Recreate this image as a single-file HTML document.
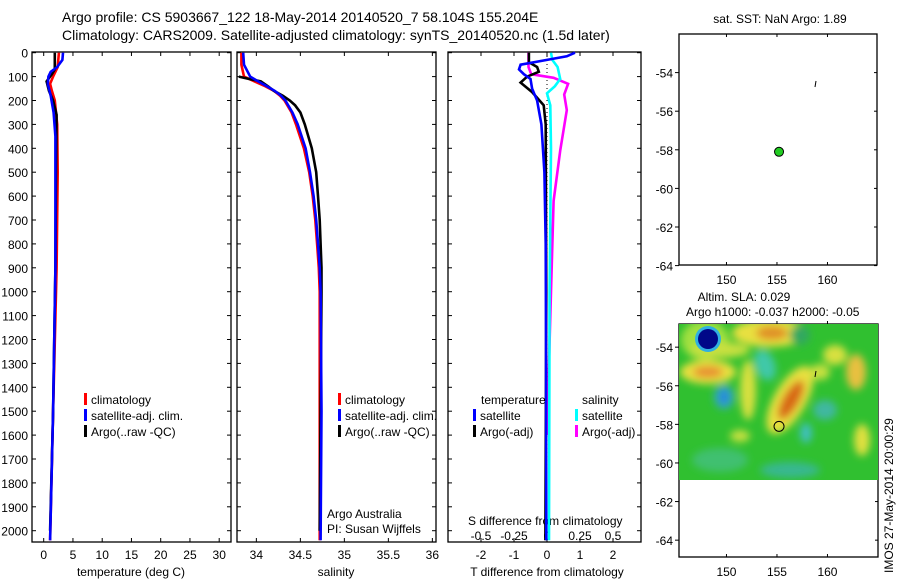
<!DOCTYPE html>
<html><head><meta charset="utf-8"><style>
body{margin:0;background:#fff;}
svg{display:block;font-family:"Liberation Sans",sans-serif;}
</style></head><body>
<svg id="c" width="900" height="580" viewBox="0 0 900 580">
<defs><filter id="bl" x="-50%" y="-50%" width="200%" height="200%"><feGaussianBlur stdDeviation="4"/></filter>
<clipPath id="hc"><rect x="679" y="324" width="199" height="156"/></clipPath></defs>
<text x="62" y="22" font-size="14">Argo profile: CS 5903667_122 18-May-2014 20140520_7 58.104S 155.204E</text>
<text x="62" y="40" font-size="14">Climatology: CARS2009. Satellite-adjusted climatology: synTS_20140520.nc (1.5d later)</text>
<g id="g"></g>
<g clip-path="url(#hc)">
<rect x="679" y="324" width="199" height="156" fill="#30c030"/>
<g filter="url(#bl)">
<ellipse cx="705" cy="340" rx="24" ry="20" fill="#a0e040"/>
<ellipse cx="770" cy="333" rx="38" ry="14" fill="#e8e040"/>
<ellipse cx="772" cy="333" rx="16" ry="7" fill="#e09028"/>
<ellipse cx="720" cy="350" rx="30" ry="8" fill="#c8e040"/>
<ellipse cx="708" cy="372" rx="28" ry="12" fill="#e8e040"/>
<ellipse cx="708" cy="372" rx="15" ry="6" fill="#e89030"/>
<ellipse cx="748" cy="390" rx="8" ry="30" fill="#d8e040"/>
<ellipse cx="765" cy="365" rx="10" ry="16" fill="#40c8a8" transform="rotate(-20 765 365)"/>
<ellipse cx="790" cy="400" rx="38" ry="16" fill="#e8e040" transform="rotate(-60 790 400)"/>
<ellipse cx="791" cy="400" rx="22" ry="8" fill="#d86818" transform="rotate(-60 791 400)"/>
<ellipse cx="724" cy="397" rx="10" ry="12" fill="#30a8c0"/>
<ellipse cx="724" cy="397" rx="4" ry="7" fill="#2080e0"/>
<ellipse cx="800" cy="335" rx="10" ry="10" fill="#30a860"/>
<ellipse cx="856" cy="372" rx="10" ry="18" fill="#e8c040"/>
<ellipse cx="835" cy="355" rx="12" ry="10" fill="#d8e040"/>
<ellipse cx="820" cy="372" rx="10" ry="8" fill="#c8e040"/>
<ellipse cx="862" cy="440" rx="8" ry="16" fill="#e0e040"/>
<ellipse cx="806" cy="433" rx="6" ry="10" fill="#40c0c0"/>
<ellipse cx="825" cy="410" rx="12" ry="10" fill="#40b8a0"/>
<ellipse cx="740" cy="436" rx="10" ry="6" fill="#c8e040"/>
<ellipse cx="720" cy="460" rx="28" ry="12" fill="#40c070"/>
<ellipse cx="790" cy="470" rx="30" ry="8" fill="#38b890"/>
</g>
<circle cx="708" cy="339" r="13" fill="#30b0e0"/>
<circle cx="708" cy="339" r="10" fill="#000888"/>
</g>
</svg>
<script>
// ---------- data ----------
const depthT=[0,60,100,130,160,200,300,500,900,1500,2040];
const tempClim=[2.6,2.4,1.6,1.1,1.4,1.9,2.3,2.4,2.2,1.6,1.1];
const depthTS=[0,30,60,80,100,130,180,250,350,900,1500,2040];
const tempSat=[3.3,3.2,2.3,1.2,0.8,0.7,1.2,1.7,2.0,2.0,1.6,1.1];
const depthTA=[0,70,90,120,160,200,260,500,900,1500,2000];
const tempArgo=[1.9,1.9,1.4,0.5,0.9,1.6,2.2,2.1,2.0,1.6,1.1];
const depthS=[0,50,100,120,140,160,180,200,250,300,400,500,600,700,800,900,1000,1500,2040];
const salClim=[33.83,33.83,33.86,33.98,34.1,34.2,34.27,34.32,34.4,34.45,34.54,34.6,34.64,34.67,34.69,34.71,34.72,34.72,34.72];
const salSat=[33.85,33.86,33.93,34.02,34.12,34.21,34.28,34.33,34.41,34.47,34.56,34.61,34.65,34.68,34.7,34.72,34.73,34.74,34.73];
const depthSA=[100,110,120,140,160,180,200,220,250,300,400,500,600,700,800,900,1000,1500,2000];
const salArgo=[33.8,33.92,34.05,34.13,34.2,34.3,34.38,34.44,34.5,34.55,34.63,34.68,34.7,34.72,34.73,34.74,34.74,34.73,34.72];
const depthDB=[0,15,30,50,70,90,110,150,200,300,500,800,1200,2040];
const dTsat=[0.85,0.6,0.0,-0.8,-0.85,-0.7,-0.5,-0.45,-0.3,-0.17,-0.08,-0.04,-0.03,-0.02];
const depthDK=[0,40,60,80,100,125,165,220,300,1000,2040];
const dTargo=[-0.55,-0.55,-0.3,-0.25,-0.6,-0.8,-0.45,-0.1,-0.04,-0.02,-0.05];
const depthDC=[0,30,60,110,140,170,220,400,1000,2040];
const dSsat=[0.03,0.04,0.08,0.1,0.06,0.0,0.025,0.03,0.02,0.015];
const depthDM=[0,60,90,105,130,175,240,410,620,1000,1600];
const dSargo=[-0.14,-0.14,-0.12,0.05,0.16,0.13,0.15,0.1,0.05,0.03,0.0];
const depthTicks=[0,100,200,300,400,500,600,700,800,900,1000,1100,1200,1300,1400,1500,1600,1700,1800,1900,2000];
const tempTicks=[0,5,10,15,20,25,30];
const salTicks=[34,34.5,35,35.5,36];
const dTTicks=[-2,-1,0,1,2];
const dSTicks=[-0.5,-0.25,0,0.25,0.5];
const dSTickLabels=["-0.5","-0.25","0","0.25","0.5"];
const latTicks=[-54,-56,-58,-60,-62,-64];
const lonTicks=[150,155,160];
const argoLon=155.204, argoLat=-58.104;

// ---------- scales ----------
const yD=d=>52.7+d*0.239;
const xT=t=>32+(t+2)*5.85;
const xS=s=>237+(s-33.78)*88;
const xDT=v=>547+v*33;
const xDS=v=>547+v*132;
const xLon=l=>679+(l-145.3)*10.1;
const yLatTop=l=>34+(-52-l)*19.3;
const yLatBot=l=>324+(-52.8-l)*19.3;

const NS="http://www.w3.org/2000/svg";
const g=document.getElementById('g');
function mk(tag,at,parent){const e=document.createElementNS(NS,tag);for(const k in at)e.setAttribute(k,at[k]);(parent||g).appendChild(e);return e;}
function txt(x,y,s,anchor,size){const e=mk('text',{x:x,y:y,'font-size':size||12,'text-anchor':anchor||'start'});e.textContent=s;return e;}
function box(x1,y1,x2,y2,name){const e=mk('rect',{x:x1,y:y1,width:x2-x1,height:y2-y1,fill:'none',stroke:'#000','stroke-width':1.3});

}
function line(xs,ds,xf,col,name){let p='';for(let i=0;i<xs.length;i++){p+=(i?'L':'M')+xf(xs[i]).toFixed(1)+','+yD(ds[i]).toFixed(1);}
const e=mk('path',{d:p,fill:'none',stroke:col,'stroke-width':2.6});

}

box(32,52,231,542,'temperature-panel');
box(237,52,436,542,'salinity-panel');
box(448,52,641,542,'difference-panel');
depthTicks.forEach(d=>{const y=yD(d);
 const t=txt(28,y+5,String(d),'end',12);
 
 
 [[32,1],[231,-1],[237,1],[436,-1],[448,1],[641,-1]].forEach(([x,s])=>mk('line',{x1:x,y1:y,x2:x+4*s,y2:y,stroke:'#000'}));});
function xticks(vals,labels,f,y0,y1,ly){vals.forEach((v,i)=>{const x=f(v);
 mk('line',{x1:x,y1:y0,x2:x,y2:y0+4,stroke:'#000'});mk('line',{x1:x,y1:y1,x2:x,y2:y1-4,stroke:'#000'});
 if(ly){const t=txt(x,ly,labels[i],'middle',12);
 
 }});}
xticks(tempTicks,tempTicks.map(String),xT,52,542,559);
xticks(salTicks,salTicks.map(String),xS,52,542,559);
xticks(dTTicks,dTTicks.map(String),xDT,52,542,559);
dSTicks.forEach((v,i)=>{const t=txt(xDS(v),540,dSTickLabels[i],'middle',12);
 
 });
let t;
t=txt(131,576,'temperature (deg C)','middle');
t=txt(336,576,'salinity','middle');
t=txt(547,576,'T difference from climatology','middle');
t=txt(468,525,'S difference from climatology');
mk('line',{x1:547,y1:52,x2:547,y2:542,stroke:'#000','stroke-dasharray':'1,3'});

line(tempClim,depthT,xT,'#f00','temp-climatology-line');
line(tempArgo,depthTA,xT,'#000','temp-argo-line');
line(tempSat,depthTS,xT,'#00f','temp-satellite-line');
line(salClim,depthS,xS,'#f00','sal-climatology-line');
line(salArgo,depthSA,xS,'#000','sal-argo-line');
line(salSat,depthS,xS,'#00f','sal-satellite-line');
line(dSargo,depthDM,xDS,'#f0f','s-diff-argo-line');
line(dSsat,depthDC,xDS,'#0ff','s-diff-satellite-line');
line(dTargo,depthDK,xDT,'#000','t-diff-argo-line');
line(dTsat,depthDB,xDT,'#00f','t-diff-satellite-line');

function leg(x,y,col,s,name){mk('rect',{x:x,y:y-11,width:3,height:12,fill:col});const e=txt(x+7,y,s);
 
 }
leg(84,404,'#f00','climatology','legend-climatology');
leg(84,420,'#00f','satellite-adj. clim.','legend-satellite-adj');
leg(84,436,'#000','Argo(..raw -QC)','legend-argo');
leg(338,404,'#f00','climatology','legend-climatology-sal');
leg(338,420,'#00f','satellite-adj. clim.','legend-satellite-adj-sal');
leg(338,436,'#000','Argo(..raw -QC)','legend-argo-sal');
t=txt(481,404,'temperature');
t=txt(582,404,'salinity');
leg(473,420,'#00f','satellite','legend-t-satellite');
leg(473,436,'#000','Argo(-adj)','legend-t-argo');
leg(575,420,'#0ff','satellite','legend-s-satellite');
leg(575,436,'#f0f','Argo(-adj)','legend-s-argo');
t=txt(327,518,'Argo Australia');
t=txt(327,533,'PI: Susan Wijffels');

box(679,34,877,265,'sst-map');
box(679,324,878,557,'sla-map');
t=txt(780,23,'sat. SST: NaN Argo: 1.89','middle');
t=txt(744,301,'Altim. SLA: 0.029','middle');
t=txt(686,316,'Argo h1000: -0.037 h2000: -0.05');
latTicks.forEach(l=>{[[yLatTop(l),877],[yLatBot(l),878]].forEach(([y,xr])=>{
 mk('line',{x1:679,y1:y,x2:675,y2:y,stroke:'#000'});mk('line',{x1:xr,y1:y,x2:xr-3,y2:y,stroke:'#000'});
 const e=txt(673,y+5,String(l),'end');
 
 });});
lonTicks.forEach(l=>{const x=xLon(l);
 mk('line',{x1:x,y1:34,x2:x,y2:37,stroke:'#000'});mk('line',{x1:x,y1:265,x2:x,y2:262,stroke:'#000'});
 mk('line',{x1:x,y1:324,x2:x,y2:321,stroke:'#000'});mk('line',{x1:x,y1:557,x2:x,y2:554,stroke:'#000'});
 let e=txt(x,284,String(l),'middle');
 e=txt(x,576,String(l),'middle');});
let c=mk('circle',{cx:xLon(argoLon),cy:yLatTop(argoLat),r:4.5,fill:'#2c2',stroke:'#000'});


c=mk('circle',{cx:xLon(argoLon),cy:yLatBot(argoLat),r:5,fill:'none',stroke:'#000'});
document.getElementById('c').appendChild(c);


mk('line',{x1:815,y1:87,x2:816,y2:81,stroke:'#000'});
const tk=mk('line',{x1:815,y1:377,x2:816,y2:371,stroke:'#000'});document.getElementById('c').appendChild(tk);
t=txt(0,0,'IMOS 27-May-2014 20:00:29');t.setAttribute('transform','translate(893,573) rotate(-90)');


</script>
</body></html>
